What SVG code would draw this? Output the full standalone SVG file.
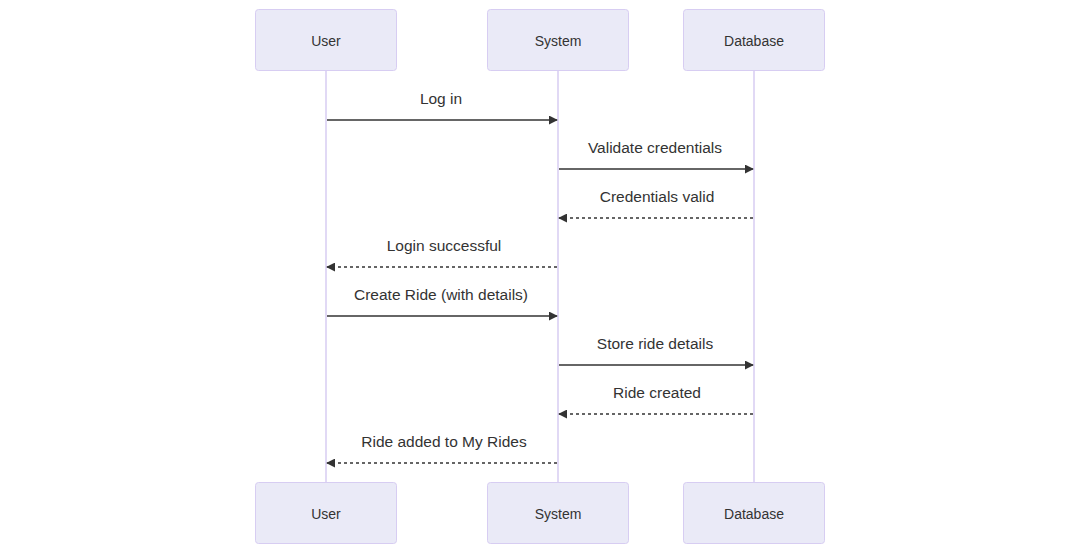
<svg xmlns="http://www.w3.org/2000/svg" width="1080" height="554" viewBox="0 0 1080 554">
<style>
.actor{fill:#eaeaf7;stroke:#d7cdf2;stroke-width:1}
.life{stroke:#d7cdf2;stroke-width:1.5}
.atext{font-family:"Liberation Sans",Arial,sans-serif;font-size:14px;fill:#333;text-anchor:middle;dominant-baseline:central}
.msg{stroke:#333;stroke-width:1.5;fill:none;marker-end:url(#arrow)}
.dash{stroke-dasharray:3,3}
.mtext{font-family:"Liberation Sans",Arial,sans-serif;font-size:15.5px;fill:#333;text-anchor:middle;dominant-baseline:central}
</style>
<defs>
<marker id="arrow" viewBox="0 0 10 10" refX="9" refY="5" markerWidth="9" markerHeight="9" markerUnits="userSpaceOnUse" orient="auto">
<path d="M0,0 L10,5 L0,10 z" fill="#333"/>
</marker>
</defs>
<rect width="1080" height="554" fill="#fff"/>
<g id="lifelines">
<line class="life" x1="326" y1="70" x2="326" y2="482"/>
<line class="life" x1="558" y1="70" x2="558" y2="482"/>
<line class="life" x1="754" y1="70" x2="754" y2="482"/>
</g>
<g id="user-top"><rect class="actor" x="255.5" y="9.5" width="141" height="61" rx="3"/><text class="atext" x="326" y="40.5">User</text></g>
<g id="system-top"><rect class="actor" x="487.5" y="9.5" width="141" height="61" rx="3"/><text class="atext" x="558" y="40.5">System</text></g>
<g id="database-top"><rect class="actor" x="683.5" y="9.5" width="141" height="61" rx="3"/><text class="atext" x="754" y="40.5">Database</text></g>
<g id="user-bottom"><rect class="actor" x="255.5" y="482.5" width="141" height="61" rx="3"/><text class="atext" x="326" y="513.5">User</text></g>
<g id="system-bottom"><rect class="actor" x="487.5" y="482.5" width="141" height="61" rx="3"/><text class="atext" x="558" y="513.5">System</text></g>
<g id="database-bottom"><rect class="actor" x="683.5" y="482.5" width="141" height="61" rx="3"/><text class="atext" x="754" y="513.5">Database</text></g>
<g id="connectors">
<line class="msg" x1="327" y1="120" x2="557" y2="120"/>
<text class="mtext" x="441" y="98.5">Log in</text>
<line class="msg" x1="559" y1="169" x2="753" y2="169"/>
<text class="mtext" x="655" y="147.5">Validate credentials</text>
<line class="msg dash" x1="753" y1="218" x2="559" y2="218"/>
<text class="mtext" x="657" y="196.5">Credentials valid</text>
<line class="msg dash" x1="557" y1="267" x2="327" y2="267"/>
<text class="mtext" x="444" y="245.5">Login successful</text>
<line class="msg" x1="327" y1="316" x2="557" y2="316"/>
<text class="mtext" x="441" y="294.5">Create Ride (with details)</text>
<line class="msg" x1="559" y1="365" x2="753" y2="365"/>
<text class="mtext" x="655" y="343.5">Store ride details</text>
<line class="msg dash" x1="753" y1="414" x2="559" y2="414"/>
<text class="mtext" x="657" y="392.5">Ride created</text>
<line class="msg dash" x1="557" y1="463" x2="327" y2="463"/>
<text class="mtext" x="444" y="441.5">Ride added to My Rides</text>
</g>
</svg>
